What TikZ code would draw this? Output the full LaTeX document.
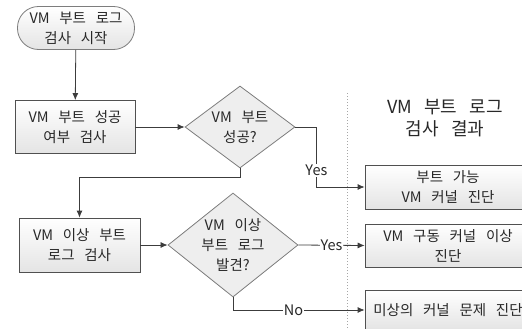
\documentclass[tikz,border=0pt]{standalone}
\usepackage{fontspec}
\setmainfont{Noto Sans CJK KR}[WordSpace=3]
\usetikzlibrary{arrows.meta, shapes.geometric, positioning}
\definecolor{edgegray}{RGB}{80, 80, 80}
\definecolor{diaedge}{RGB}{125, 125, 125}
\definecolor{diafill}{RGB}{238, 238, 238}
\definecolor{boxbottom}{RGB}{228, 228, 228}
\definecolor{linkgray}{RGB}{60, 60, 60}
\definecolor{textgray}{RGB}{40, 40, 40}

\begin{document}
\begin{tikzpicture}[x=1pt, y=-1pt, font=\fontsize{14.5}{20}\selectfont, text=textgray,
    procbox/.style={draw=edgegray, line width=0.8pt, rectangle, top color=white, bottom color=boxbottom, align=center},
    termbox/.style={procbox, draw=diaedge, rounded corners=21pt, minimum width=117pt, minimum height=43pt},
    decision/.style={draw=diaedge, line width=0.8pt, diamond, fill=diafill, align=center, inner sep=-3pt},
    link/.style={draw=linkgray, line width=0.8pt, -{Latex[length=7pt, width=6pt]}},
    tag/.style={fill=white, inner sep=1pt}]
    \useasboundingbox (0,0) rectangle (522,329);
    \clip (0,0) rectangle (522,329);
    \node[termbox] (start) at (76,28) {VM 부트 로그\\검사 시작};
    \node[procbox, minimum width=120pt, minimum height=53pt] (check) at (75,127) {VM 부트 성공\\여부 검사};
    \node[decision, minimum width=110pt, minimum height=82pt, aspect=1.34] (bootok) at (240,127) {VM 부트\\성공?};
    \node[procbox, minimum width=121pt, minimum height=54pt] (scan) at (79.5,245) {VM 이상 부트\\로그 검사};
    \node[decision, minimum width=130pt, minimum height=104pt, aspect=1.25] (found) at (233,245) {VM 이상\\부트 로그\\발견?};
    \node[font=\fontsize{18}{22}\selectfont, align=center] (title) at (445,118) {VM 부트 로그\\검사 결과};
    \node[procbox, minimum width=166pt, minimum height=44pt] (normal) at (448,187) {부트 가능\\VM 커널 진단};
    \node[procbox, minimum width=166pt, minimum height=43pt] (kernel) at (448,245.5) {VM 구동 커널 이상\\진단};
    \node[procbox, minimum width=166pt, minimum height=40pt] (unknown) at (448,310) {미상의 커널 문제 진단};
    % result area divider
    \draw[gray!70, dotted, line width=1pt] (347,93) -- (347,329);
    \draw[link] (start) -- (check);
    \draw[link] (check) -- (bootok);
    \draw[link] (bootok.south) -- ++(0,9) -| (scan.north);
    \draw[link] (bootok.east) -- ++(21,0) |- node[tag, pos=0.36] {Yes} (normal.west);
    \draw[link] (scan) -- (found);
    \draw[link] (found.east) -- node[tag] {Yes} (kernel.west);
    \draw[link] (found.south) |- node[tag, pos=0.73] {No} (unknown.west);
\end{tikzpicture}
\end{document}
